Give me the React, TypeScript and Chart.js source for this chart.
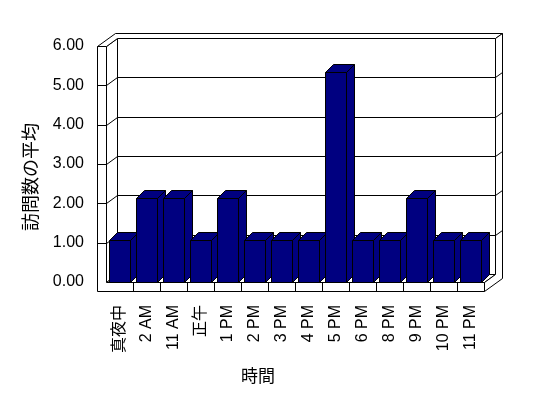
import React, { useEffect, useRef } from 'react';
import { Chart, registerables } from 'chart.js';

Chart.register(...registerables);

// ---- data ----
const categories = ['真夜中', '2 AM', '11 AM', '正午', '1 PM', '2 PM', '3 PM', '4 PM', '5 PM', '6 PM', '8 PM', '9 PM', '10 PM', '11 PM'];
const visits = [1, 2, 2, 1, 2, 1, 1, 1, 5, 1, 1, 2, 1, 1];
const yTickValues = [0, 1, 2, 3, 4, 5, 6];
const yTitle = '訪問数の平均';
const xTitle = '時間';

const FONT = '"Liberation Sans", Arial, "Noto Sans CJK JP", sans-serif';
const CJK = '"Noto Sans CJK JP", "Liberation Sans", sans-serif';
const NAVY = '#000080';

// 3D geometry (pixels)
const DX = 11, DY = -8;       // plot depth
const TX = 7, TY = -5;        // back wall thickness
const WT = 9;                 // left wall thickness
const FT = 9;                 // floor thickness
const BX = 8, BY = -8;        // bar depth

const s = (v: number) => Math.round(v) + 0.5;

function poly(ctx: CanvasRenderingContext2D, pts: number[][], fill?: string, close = true) {
  ctx.beginPath();
  pts.forEach((p, i) => (i === 0 ? ctx.moveTo(s(p[0]), s(p[1])) : ctx.lineTo(s(p[0]), s(p[1]))));
  if (close) ctx.closePath();
  if (fill) {
    ctx.fillStyle = fill;
    ctx.fill();
  }
  ctx.stroke();
}

const box3d = {
  id: 'box3d',
  beforeDatasetsDraw(chart: any) {
    const { ctx, chartArea } = chart;
    const yS = chart.scales.y;
    const L = chartArea.left, R = chartArea.right;
    const T = yS.getPixelForValue(yS.max), B = yS.getPixelForValue(yS.min);
    const OL = L - WT;
    ctx.save();
    ctx.strokeStyle = '#000';
    ctx.lineWidth = 1;
    // back plane
    poly(ctx, [[L + DX, T + DY], [R + DX, T + DY], [R + DX, B + DY], [L + DX, B + DY]], '#fff');
    // left wall inner face
    poly(ctx, [[L, T], [L + DX, T + DY], [L + DX, B + DY], [L, B]], '#fff');
    // floor top
    poly(ctx, [[L, B], [L + DX, B + DY], [R + DX, B + DY], [R, B]], '#fff');
    // top outer face
    poly(ctx, [[OL, T], [OL + DX + TX, T + DY + TY], [R + DX + TX, T + DY + TY], [R + DX, T + DY], [L + DX, T + DY], [L, T]], '#fff');
    // right outer face
    poly(ctx, [[R + DX, T + DY], [R + DX + TX, T + DY + TY], [R + DX + TX, B + FT + DY + TY], [R, B + FT], [R, B], [R + DX, B + DY]], '#fff');
    // front L face
    poly(ctx, [[OL, T], [L, T], [L, B], [R, B], [R, B + FT], [OL, B + FT]], '#fff');
    // gridlines
    yTickValues.forEach((v) => {
      if (v === yS.min || v === yS.max) return;
      const y = yS.getPixelForValue(v);
      poly(ctx, [[OL, y], [L, y], [L + DX, y + DY], [R + DX, y + DY], [R + DX + TX, y + DY + TY]], undefined, false);
    });
    // floor dividers
    const n = categories.length;
    for (let i = 1; i < n; i++) {
      const x = L + (i * (R - L)) / n;
      poly(ctx, [[x, B], [x, B + FT]], undefined, false);
    }
    ctx.restore();
  },
  afterDatasetsDraw(chart: any) {
    const { ctx } = chart;
    const meta = chart.getDatasetMeta(0);
    ctx.save();
    ctx.strokeStyle = '#000';
    ctx.lineWidth = 1;
    meta.data.forEach((el: any) => {
      const { x, y, base, width } = el.getProps(['x', 'y', 'base', 'width'], true);
      const x0 = x - width / 2, x1 = x + width / 2;
      // side
      poly(ctx, [[x1, y], [x1 + BX, y + BY], [x1 + BX, base + BY], [x1, base]], NAVY);
      // top
      poly(ctx, [[x0, y], [x0 + BX, y + BY], [x1 + BX, y + BY], [x1, y]], NAVY);
      // front
      poly(ctx, [[x0, y], [x1, y], [x1, base], [x0, base]], NAVY);
    });
    ctx.restore();
  },
  afterDraw(chart: any) {
    const { ctx } = chart;
    ctx.save();
    ctx.fillStyle = '#000';
    ctx.textAlign = 'center';
    ctx.textBaseline = 'middle';
    ctx.font = '18px ' + CJK;
    ctx.translate(30, 177);
    ctx.rotate(-Math.PI / 2);
    ctx.fillText(yTitle, 0, 0);
    ctx.restore();
    ctx.save();
    ctx.fillStyle = '#000';
    ctx.textAlign = 'center';
    ctx.textBaseline = 'middle';
    ctx.font = '17px ' + CJK;
    ctx.fillText(xTitle, 258, 376);
    ctx.restore();
  },
};

export default function App() {
  const ref = useRef<HTMLCanvasElement | null>(null);
  useEffect(() => {
    if (!ref.current) return;
    const chart = new Chart(ref.current, {
      type: 'bar',
      data: {
        labels: categories,
        datasets: [
          {
            data: visits,
            yAxisID: 'y2',
            backgroundColor: 'rgba(0,0,0,0)',
            borderWidth: 0,
            barPercentage: 0.79,
            categoryPercentage: 1,
          },
        ],
      },
      options: {
        responsive: false,
        animation: false,
        events: [],
        layout: { padding: { top: 46, right: 64, left: 0, bottom: 0 } },
        plugins: { legend: { display: false }, tooltip: { enabled: false } },
        scales: {
          x: {
            offset: true,
            grid: { display: false, drawTicks: false },
            border: { display: false },
            ticks: {
              color: '#000',
              font: { size: 16, family: FONT },
              maxRotation: 90,
              minRotation: 90,
              padding: 23,
              autoSkip: false,
            },
            afterFit: (sc: any) => {
              sc.height = 116;
            },
          },
          y: {
            min: 0,
            max: 6,
            grid: { display: false, drawTicks: false },
            border: { display: false },
            ticks: {
              stepSize: 1,
              color: '#000',
              font: { size: 16, family: FONT },
              padding: 22,
              callback: (v: any) => Number(v).toFixed(2),
            },
            afterFit: (sc: any) => {
              sc.width = 106;
            },
          },
          y2: {
            display: false,
            min: 0,
            max: 5.61,
          },
        },
      },
      plugins: [box3d],
    });
    return () => chart.destroy();
  }, []);
  return (
    <div style={{ position: 'fixed', left: 0, top: 0, width: 548, height: 398, background: '#fff' }}>
      <canvas ref={ref} width={548} height={398} style={{ display: 'block' }} />
    </div>
  );
}
